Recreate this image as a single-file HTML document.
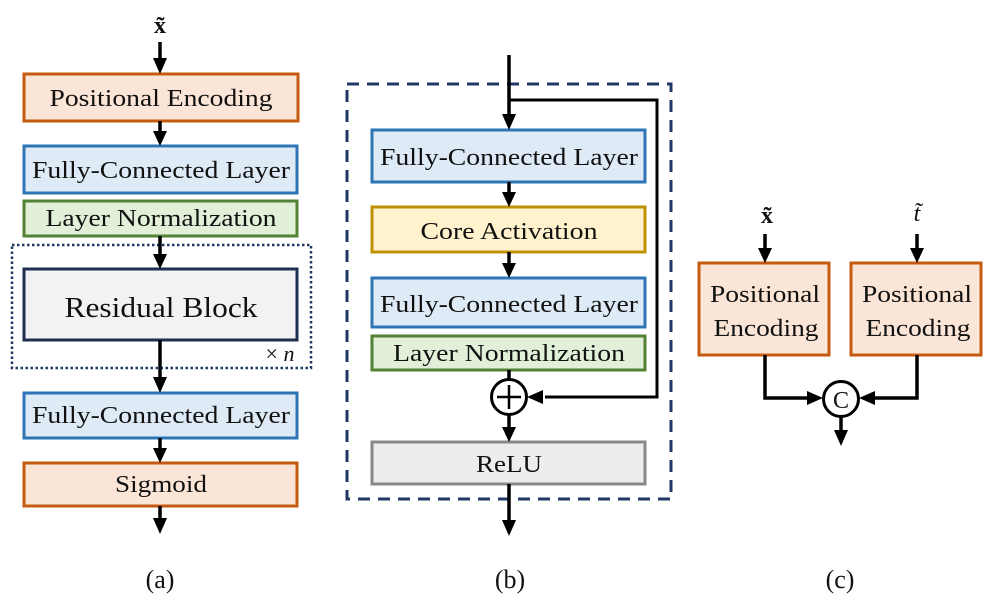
<!DOCTYPE html>
<html><head><meta charset="utf-8"><style>
html,body{margin:0;padding:0;background:#fff}
svg{display:block}
text{font-family:"Liberation Serif","Times New Roman","DejaVu Serif",serif;fill:#111}
</style></head><body>
<svg width="995" height="606" viewBox="0 0 995 606" xmlns="http://www.w3.org/2000/svg" font-family="Liberation Serif, Times New Roman, serif">
<g stroke-width="3">
<!-- (a) -->
<rect x="24" y="74" width="274" height="47" fill="#fbe5d6" stroke="#c55a11"/>
<rect x="24" y="146" width="273" height="47" fill="#deebf7" stroke="#2e75b6"/>
<rect x="24" y="201" width="273" height="35" fill="#e2f0d9" stroke="#548235"/>
<rect x="12" y="245" width="299" height="123" fill="none" stroke="#1f3864" stroke-width="2.5" stroke-dasharray="2.5,2.5"/>
<rect x="24" y="269" width="273" height="71" fill="#f2f2f2" stroke="#1f2f50"/>
<rect x="24" y="393" width="273" height="45" fill="#deebf7" stroke="#2e75b6"/>
<rect x="24" y="463" width="273" height="43" fill="#fbe5d6" stroke="#c55a11"/>
</g>
<text x="160" y="33" font-size="24" font-weight="bold" text-anchor="middle">x̃</text>
<g font-size="24" text-anchor="middle" lengthAdjust="spacingAndGlyphs">
<text x="161" y="106" textLength="223" lengthAdjust="spacingAndGlyphs">Positional Encoding</text>
<text x="161" y="178" textLength="258" lengthAdjust="spacingAndGlyphs">Fully-Connected Layer</text>
<text x="161" y="226" textLength="231" lengthAdjust="spacingAndGlyphs">Layer Normalization</text>
<text x="161" y="317" font-size="29" textLength="193" lengthAdjust="spacingAndGlyphs">Residual Block</text>
<text x="161" y="423" textLength="258" lengthAdjust="spacingAndGlyphs">Fully-Connected Layer</text>
<text x="161" y="492" textLength="92" lengthAdjust="spacingAndGlyphs">Sigmoid</text>
<text x="160" y="588" font-size="26">(a)</text>
</g>
<text x="280" y="361" font-size="22" text-anchor="middle">× <tspan font-style="italic">n</tspan></text>
<g stroke="#000" stroke-width="3.5" fill="none">
<line x1="160" y1="42" x2="160" y2="60"/>
<line x1="160" y1="121" x2="160" y2="132"/>
<line x1="160" y1="236" x2="160" y2="255"/>
<line x1="160" y1="340" x2="160" y2="378"/>
<line x1="160" y1="438" x2="160" y2="449"/>
<line x1="160" y1="506" x2="160" y2="520"/>
</g>
<g fill="#000">
<polygon points="153,58 167,58 160,74"/>
<polygon points="153,131 167,131 160,146"/>
<polygon points="153,254 167,254 160,269"/>
<polygon points="153,377 167,377 160,393"/>
<polygon points="153,448 167,448 160,463"/>
<polygon points="153,518 167,518 160,534"/>
</g>
<!-- (b) -->
<rect x="347" y="84" width="324" height="415" fill="none" stroke="#1f3864" stroke-width="3" stroke-dasharray="12,8"/>
<g stroke-width="3">
<rect x="372" y="130" width="273" height="52" fill="#deebf7" stroke="#2e75b6"/>
<rect x="372" y="207" width="273" height="45" fill="#fff2cc" stroke="#bf9000"/>
<rect x="372" y="278" width="273" height="49" fill="#deebf7" stroke="#2e75b6"/>
<rect x="372" y="336" width="273" height="34" fill="#e2f0d9" stroke="#548235"/>
<rect x="372" y="442" width="273" height="42" fill="#ededed" stroke="#888"/>
</g>
<g font-size="24" text-anchor="middle">
<text x="509" y="165" textLength="258" lengthAdjust="spacingAndGlyphs">Fully-Connected Layer</text>
<text x="509" y="239" textLength="177" lengthAdjust="spacingAndGlyphs">Core Activation</text>
<text x="509" y="312" textLength="258" lengthAdjust="spacingAndGlyphs">Fully-Connected Layer</text>
<text x="509" y="361" textLength="232" lengthAdjust="spacingAndGlyphs">Layer Normalization</text>
<text x="509" y="472" textLength="66" lengthAdjust="spacingAndGlyphs">ReLU</text>
<text x="510" y="588" font-size="26">(b)</text>
</g>
<g stroke="#000" stroke-width="3.5" fill="none">
<line x1="509" y1="55" x2="509" y2="116"/>
<polyline points="509,100 657,100 657,397 545,397" stroke-width="3"/>
<line x1="509" y1="182" x2="509" y2="194"/>
<line x1="509" y1="252" x2="509" y2="264"/>
<line x1="509" y1="370" x2="509" y2="380"/>
<line x1="509" y1="415" x2="509" y2="428"/>
<line x1="509" y1="484" x2="509" y2="522"/>
<circle cx="509" cy="397" r="17.5" fill="#fff" stroke-width="3"/>
<line x1="497" y1="397" x2="521" y2="397" stroke-width="2.5"/>
<line x1="509" y1="385" x2="509" y2="409" stroke-width="2.5"/>
</g>
<g fill="#000">
<polygon points="502,114 516,114 509,130"/>
<polygon points="502,192 516,192 509,207"/>
<polygon points="502,263 516,263 509,278"/>
<polygon points="502,427 516,427 509,442"/>
<polygon points="502,520 516,520 509,536"/>
<polygon points="527,397 543,390 543,404"/>
</g>
<!-- (c) -->
<text x="767" y="223" font-size="24" font-weight="bold" text-anchor="middle">x̃</text>
<text x="917" y="221" font-size="24" font-style="italic" text-anchor="middle">t̃</text>
<g stroke-width="3">
<rect x="699" y="263" width="130" height="92" fill="#fbe5d6" stroke="#c55a11"/>
<rect x="851" y="263" width="130" height="92" fill="#fbe5d6" stroke="#c55a11"/>
</g>
<g font-size="24" text-anchor="middle">
<text x="765" y="302" textLength="110" lengthAdjust="spacingAndGlyphs">Positional</text>
<text x="766" y="336" textLength="105" lengthAdjust="spacingAndGlyphs">Encoding</text>
<text x="917" y="302" textLength="110" lengthAdjust="spacingAndGlyphs">Positional</text>
<text x="918" y="336" textLength="105" lengthAdjust="spacingAndGlyphs">Encoding</text>
<text x="840" y="588" font-size="26">(c)</text>
</g>
<g stroke="#000" stroke-width="3.5" fill="none">
<line x1="765" y1="234" x2="765" y2="250"/>
<line x1="917" y1="234" x2="917" y2="250"/>
<polyline points="765,355 765,398 810,398"/>
<polyline points="917,355 917,398 874,398"/>
<line x1="841" y1="417" x2="841" y2="432"/>
<circle cx="841" cy="399" r="17.5" fill="#fff" stroke-width="3"/>
</g>
<text x="841" y="408" font-size="24" text-anchor="middle">C</text>
<g fill="#000">
<polygon points="758,248 772,248 765,263"/>
<polygon points="910,248 924,248 917,263"/>
<polygon points="823,398 807,391 807,405"/>
<polygon points="859,398 875,391 875,405"/>
<polygon points="834,430 848,430 841,446"/>
</g>
</svg>
</body></html>
